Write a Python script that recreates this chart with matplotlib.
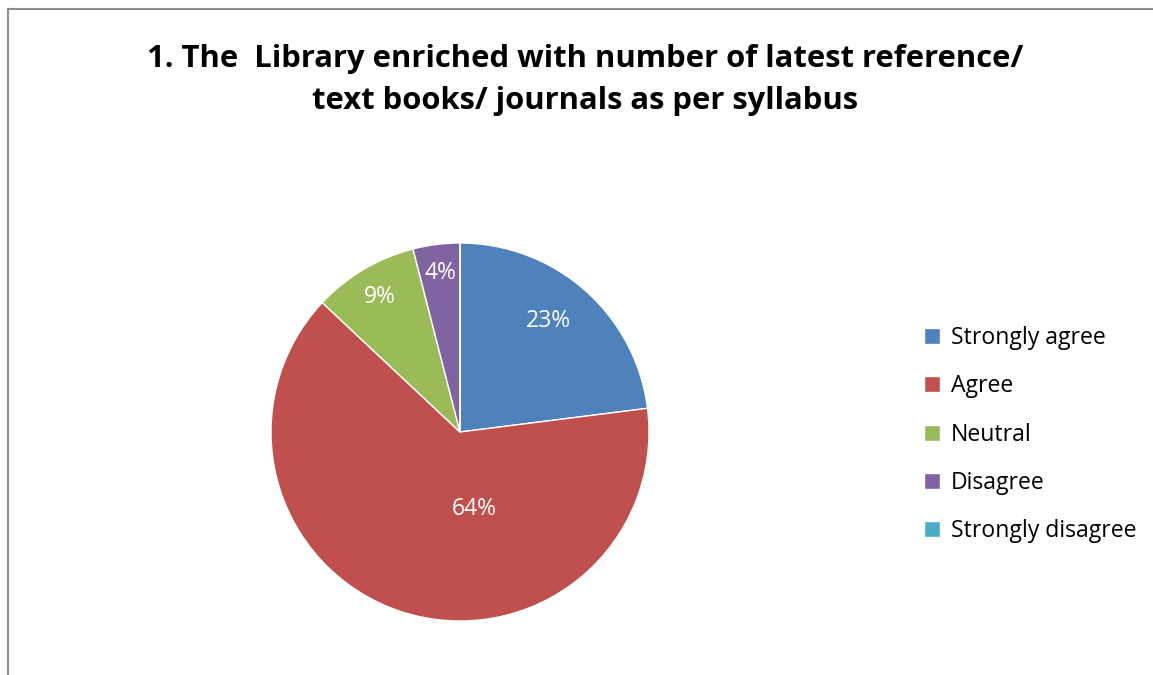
import matplotlib.pyplot as plt

# survey answers (percent)
labels = ['Strongly agree', 'Agree', 'Neutral', 'Disagree', 'Strongly disagree']
values = [23, 64, 9, 4, 0]
colors = ['#4F81BD', '#C0504D', '#9BBB59', '#8064A2', '#4BACC6']
title = '1. The  Library enriched with number of latest reference/\ntext books/ journals as per syllabus'

# label positions inside the pie (unit radius), as Excel placed them
label_pos = [(0.466, 0.585), (0.074, -0.41), (-0.423, 0.712), (-0.106, 0.84), (0, 0)]

W, H = 1153, 675
fig = plt.figure(figsize=(W / 100, H / 100), dpi=100)
plt.rcParams['font.family'] = ['Open Sans', 'DejaVu Sans']

# chart frame (only left and top edges visible)
fig.add_artist(plt.Line2D([8 / W, 8 / W], [0, 1 - 9 / H], color='#8c8c8c', lw=1.5))
fig.add_artist(plt.Line2D([8 / W, 1], [1 - 9 / H, 1 - 9 / H], color='#8c8c8c', lw=1.5))

cx, cy, r = 460, 432, 189
ax = fig.add_axes([(cx - r) / W, (H - cy - r) / H, 2 * r / W, 2 * r / H])
wedges, texts, autotexts = ax.pie(values, colors=colors, startangle=90, counterclock=False,
                                  autopct=lambda p: f'{p:.0f}%' if p > 0 else '',
                                  wedgeprops=dict(edgecolor='white', linewidth=1),
                                  textprops=dict(color='white', fontsize=16.5))
for t, pos in zip(autotexts, label_pos):
    t.set_position(pos)
ax.set_xlim(-1, 1)
ax.set_ylim(-1, 1)
ax.set_aspect('equal')

fig.text(585 / W, 1 - 80 / H, title, ha='center', va='center', fontsize=22.3,
         fontweight='bold', linespacing=1.52)

leg = fig.legend(wedges, labels, loc='upper left', bbox_to_anchor=(915 / W, 1 - 317 / H),
                 frameon=False, fontsize=16.6, handlelength=0.7, handleheight=0.7,
                 handletextpad=0.45, labelspacing=1.05, borderaxespad=0)

fig.savefig('out.png', dpi=100)
